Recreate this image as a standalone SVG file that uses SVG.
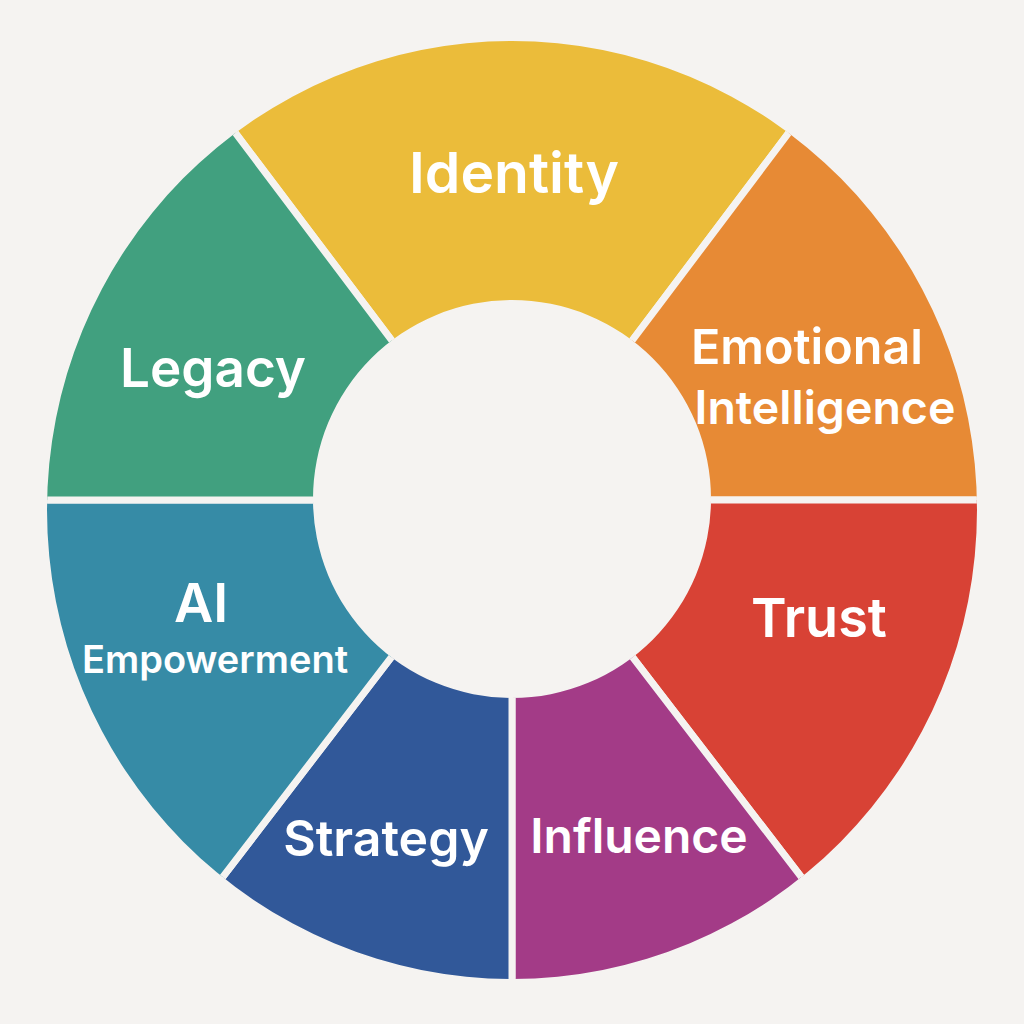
<svg xmlns="http://www.w3.org/2000/svg" width="1024" height="1024" viewBox="0 0 1024 1024">
<defs>
<clipPath id="ring"><path clip-rule="evenodd" d="M 47 510 A 465 469 0 1 0 977 510 A 465 469 0 1 0 47 510 Z M 313 499 A 199 199 0 1 0 711 499 A 199 199 0 1 0 313 499 Z"/></clipPath>
<style>
.seg{stroke:#F5F3F1;stroke-width:7;stroke-linejoin:round}
.lbl{font-family:Inter,Lato,"Noto Sans","Liberation Sans",sans-serif;font-weight:600;fill:#FFFFFF;text-anchor:middle;font-variant-ligatures:none}
</style>
</defs>
<rect width="1024" height="1024" fill="#F5F3F1"/>
<g clip-path="url(#ring)">
<g id="identity"><path class="seg" fill="#EBBC3A" d="M 512 500 L 187 68.7 A 540 540 0 0 1 837 68.7 Z"/></g>
<g id="emotional-intelligence"><path class="seg" fill="#E78A35" d="M 512 500 L 837 68.7 A 540 540 0 0 1 1052 500 Z"/></g>
<g id="trust"><path class="seg" fill="#D84235" d="M 512 500 L 1052 500 A 540 540 0 0 1 840.7 928.4 Z"/></g>
<g id="influence"><path class="seg" fill="#A33B87" d="M 512 500 L 840.7 928.4 A 540 540 0 0 1 512 1040 Z"/></g>
<g id="strategy"><path class="seg" fill="#315899" d="M 512 500 L 512 1040 A 540 540 0 0 1 183.3 928.4 Z"/></g>
<g id="ai-empowerment"><path class="seg" fill="#368BA6" d="M 512 500 L 183.3 928.4 A 540 540 0 0 1 -28 500 Z"/></g>
<g id="legacy"><path class="seg" fill="#41A07F" d="M 512 500 L -28 500 A 540 540 0 0 1 187 68.7 Z"/></g>
</g>
<g id="labels">
<text class="lbl" x="514" y="193" font-size="57">Identity</text>
<text class="lbl" x="807" y="364" font-size="48.5">Emotional</text>
<text class="lbl" x="825" y="424" font-size="46.5">Intelligence</text>
<text class="lbl" x="819" y="637" font-size="54">Trust</text>
<text class="lbl" x="639" y="853" font-size="48">Influence</text>
<text class="lbl" x="386" y="856" font-size="50">Strategy</text>
<text class="lbl" x="201" y="622" font-size="54">AI</text>
<text class="lbl" x="215" y="673" font-size="38">Empowerment</text>
<text class="lbl" x="213" y="387" font-size="53">Legacy</text>
</g>
</svg>
